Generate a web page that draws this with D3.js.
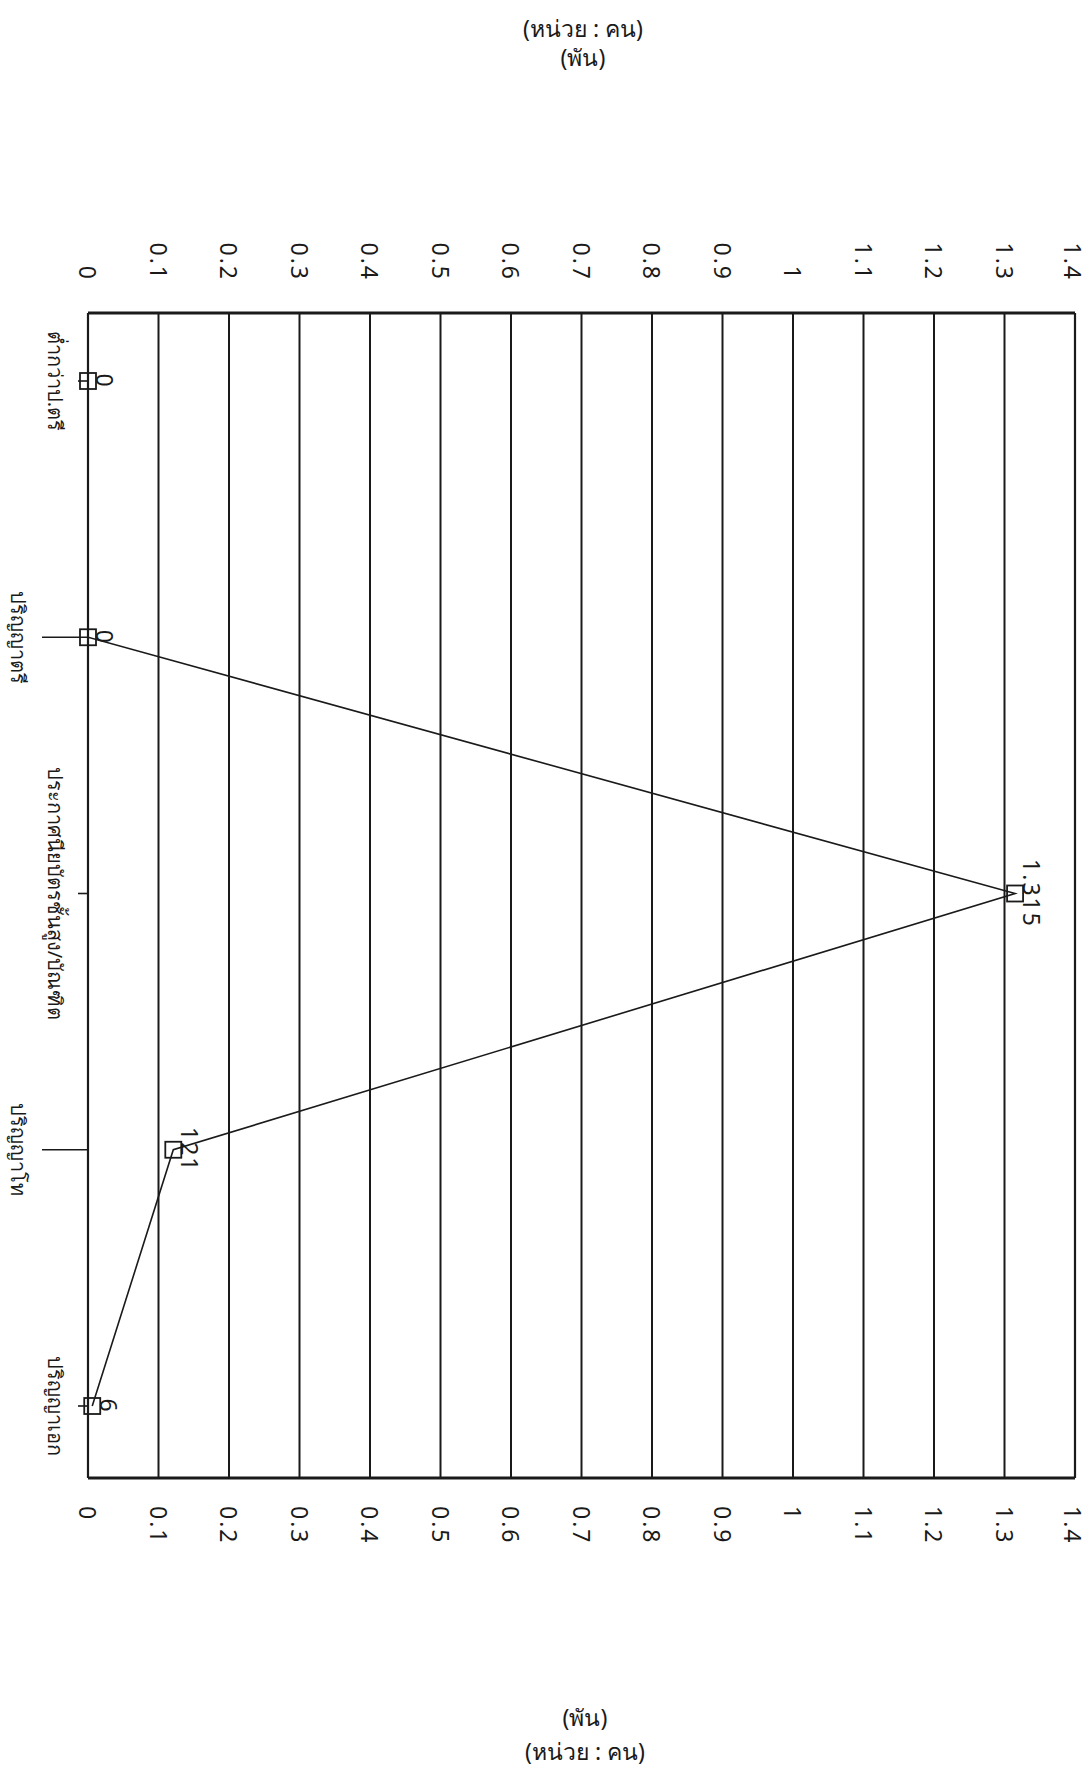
<!DOCTYPE html>
<html>
<head>
<meta charset="utf-8">
<script src="https://cdn.jsdelivr.net/npm/d3@7"></script>
<style>
  body { margin: 0; background: #fff; }
  svg text { font-family: "Noto Sans", "DejaVu Sans", sans-serif; fill: #1a1a1a; font-weight: normal; }
</style>
</head>
<body>
<div id="chart"></div>
<script>
// data (value axis is in thousands)
var categories = ["ต่ำกว่าป.ตรี", "ปริญญาตรี", "ประกาศนียบัตรชั้นสูง/บัณฑิต", "ปริญญาโท", "ปริญญาเอก"];
var values = [0, 0, 1.315, 0.121, 0.006];
var valueLabels = ["0", "0", "1.315", "121", "6"];
var tickValues = [0, 0.1, 0.2, 0.3, 0.4, 0.5, 0.6, 0.7, 0.8, 0.9, 1, 1.1, 1.2, 1.3, 1.4];
var tickLabels = ["0", "0.1", "0.2", "0.3", "0.4", "0.5", "0.6", "0.7", "0.8", "0.9", "1", "1.1", "1.2", "1.3", "1.4"];
var unitTop = ["(หน่วย : คน)", "(พัน)"];
var unitBottom = ["(พัน)", "(หน่วย : คน)"];

var W = 1088, H = 1782;
var plot = {left: 88, right: 1075, top: 313, bottom: 1478};
var ink = "#1a1a1a";

var svg = d3.select("#chart").append("svg")
    .attr("width", W).attr("height", H);

var x = d3.scaleLinear().domain([0, 1.4]).range([plot.left, plot.right]);
var y = d3.scalePoint().domain(categories).range([381, 1406]);

// grid lines
svg.append("g").selectAll("line")
    .data(tickValues.slice(1, -1))
    .enter().append("line")
    .attr("x1", function(d){ return x(d); })
    .attr("x2", function(d){ return x(d); })
    .attr("y1", plot.top).attr("y2", plot.bottom)
    .attr("stroke", ink).attr("stroke-width", 2);

// frame
svg.append("line").attr("x1", plot.left).attr("x2", plot.right)
    .attr("y1", plot.top).attr("y2", plot.top)
    .attr("stroke", ink).attr("stroke-width", 3);
svg.append("line").attr("x1", plot.left).attr("x2", plot.right)
    .attr("y1", plot.bottom).attr("y2", plot.bottom)
    .attr("stroke", ink).attr("stroke-width", 3);
svg.append("line").attr("x1", plot.left).attr("x2", plot.left)
    .attr("y1", plot.top).attr("y2", plot.bottom)
    .attr("stroke", ink).attr("stroke-width", 2.2);
svg.append("line").attr("x1", plot.right).attr("x2", plot.right)
    .attr("y1", plot.top).attr("y2", plot.bottom)
    .attr("stroke", ink).attr("stroke-width", 2.2);

// value tick labels, rotated, above and below the frame
function tickText(g, yPos, anchor) {
    g.selectAll("text")
        .data(tickValues)
        .enter().append("text")
        .attr("transform", function(d){ return "translate(" + Math.min(x(d), W - 15) + "," + yPos + ") rotate(90)"; })
        .attr("text-anchor", anchor)
        .attr("dominant-baseline", "central")
        .attr("font-size", 23)
        .attr("letter-spacing", 2)
        .text(function(d, i){ return tickLabels[i]; });
}
tickText(svg.append("g"), 281, "end");
tickText(svg.append("g"), 1506, "start");

// category ticks and labels (staggered in two rows)
var cat = svg.append("g").selectAll("g")
    .data(categories)
    .enter().append("g");
cat.append("line")
    .attr("x1", function(d, i){ return i % 2 ? 42 : 78; })
    .attr("x2", plot.left)
    .attr("y1", function(d){ return y(d); })
    .attr("y2", function(d){ return y(d); })
    .attr("stroke", ink).attr("stroke-width", 1.6);
cat.append("text")
    .attr("transform", function(d, i){ return "translate(" + (i % 2 ? 18 : 55) + "," + y(d) + ") rotate(90)"; })
    .attr("text-anchor", "middle")
    .attr("dominant-baseline", "central")
    .attr("font-size", 20)
    .text(function(d){ return d; });

// series line
var line = d3.line()
    .x(function(d){ return x(d.v); })
    .y(function(d){ return y(d.c); });
var pts = categories.map(function(c, i){ return {c: c, v: values[i], t: valueLabels[i]}; });
svg.append("path")
    .datum(pts)
    .attr("d", line)
    .attr("fill", "none")
    .attr("stroke", ink).attr("stroke-width", 1.6);

// markers
svg.append("g").selectAll("rect")
    .data(pts)
    .enter().append("rect")
    .attr("x", function(d){ return x(d.v) - 8; })
    .attr("y", function(d){ return y(d.c) - 8; })
    .attr("width", 16).attr("height", 16)
    .attr("fill", "none")
    .attr("stroke", ink).attr("stroke-width", 1.8);

// data labels
svg.append("g").selectAll("text")
    .data(pts)
    .enter().append("text")
    .attr("transform", function(d){ return "translate(" + (x(d.v) + 17) + "," + y(d.c) + ") rotate(90)"; })
    .attr("text-anchor", "middle")
    .attr("dominant-baseline", "central")
    .attr("font-size", 23)
    .attr("letter-spacing", 2)
    .text(function(d){ return d.t; });

// unit captions
svg.append("g").selectAll("text")
    .data(unitTop)
    .enter().append("text")
    .attr("x", 583).attr("y", function(d, i){ return 37 + i * 29; })
    .attr("text-anchor", "middle")
    .attr("font-size", 23)
    .text(function(d){ return d; });
svg.append("g").selectAll("text")
    .data(unitBottom)
    .enter().append("text")
    .attr("x", 585).attr("y", function(d, i){ return 1726 + i * 34; })
    .attr("text-anchor", "middle")
    .attr("font-size", 23)
    .text(function(d){ return d; });
</script>
</body>
</html>
